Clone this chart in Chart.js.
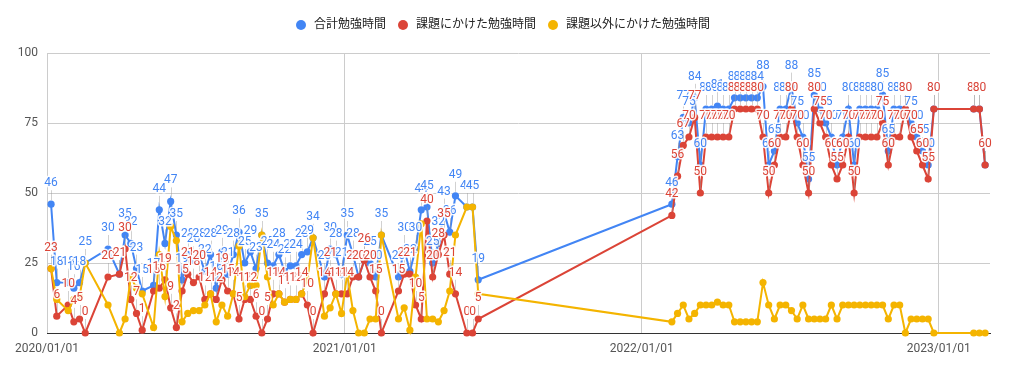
<!DOCTYPE html>
<html><head><meta charset="utf-8">
<script src="https://cdn.jsdelivr.net/npm/chart.js@4.4.1/dist/chart.umd.min.js"></script>
<style>html,body{margin:0;padding:0;background:#fff;}#wrap{width:1009px;height:373px;}</style>
</head><body><div id="wrap"><canvas id="c" width="1009" height="373"></canvas></div>
<script>
const seriesNames = ['合計勉強時間', '課題にかけた勉強時間', '課題以外にかけた勉強時間'];
const seriesColors = ['#4285F4', '#DB4437', '#F4B400'];

const dates = [
 '2020-01-06','2020-01-13','2020-01-27','2020-02-03','2020-02-10','2020-02-17','2020-03-16','2020-03-30',
 '2020-04-06','2020-04-13','2020-04-20','2020-04-27','2020-05-11','2020-05-18','2020-05-25','2020-06-01',
 '2020-06-08','2020-06-15','2020-06-22','2020-06-29','2020-07-06','2020-07-13','2020-07-20','2020-07-27',
 '2020-08-03','2020-08-10','2020-08-17','2020-08-24','2020-08-31','2020-09-07','2020-09-14','2020-09-21',
 '2020-09-28','2020-10-05','2020-10-12','2020-10-19','2020-10-26','2020-11-02','2020-11-09','2020-11-16',
 '2020-11-23','2020-12-07','2020-12-14','2020-12-21','2020-12-28','2021-01-04','2021-01-11','2021-01-18',
 '2021-01-25','2021-02-01','2021-02-08','2021-02-15','2021-03-08','2021-03-15','2021-03-22','2021-03-29',
 '2021-04-05','2021-04-12','2021-04-19','2021-04-26','2021-05-03','2021-05-10','2021-05-17','2021-05-31',
 '2021-06-07','2021-06-14',
 '2022-02-07','2022-02-14','2022-02-21','2022-02-28','2022-03-07','2022-03-14','2022-03-21','2022-03-28',
 '2022-04-04','2022-04-11','2022-04-18','2022-04-25','2022-05-02','2022-05-09','2022-05-16','2022-05-23',
 '2022-05-30','2022-06-06','2022-06-13','2022-06-20','2022-06-27','2022-07-04','2022-07-11','2022-07-18',
 '2022-07-25','2022-08-01','2022-08-08','2022-08-15','2022-08-22','2022-08-29','2022-09-05','2022-09-12',
 '2022-09-19','2022-09-26','2022-10-03','2022-10-10','2022-10-17','2022-10-24','2022-10-31','2022-11-07',
 '2022-11-14','2022-11-21','2022-11-28','2022-12-05','2022-12-12','2022-12-19','2022-12-26',
 '2023-02-13','2023-02-20','2023-02-27'
];
const total = [
 46,18,18,16,18,25,30,21, 35,32,23,15,17,44,32,47, 35,19,28,26,28,22,28,16, 29,21,28,36,25,29,23,35,
 25,24,28,22,24,24,28,29, 34,20,30,28,21,35,28,20, 26,25,20,35,20,30,22,30, 44,45,25,32,43,36,49,45, 45,19,
 46,63,77,75,84,60,80,80, 81,80,80,84,84,84,84,84, 88,60,65,80,80,88,75,70, 55,85,80,75,70,60,70,80,
 60,80,80,80,80,85,65,80, 80,80,75,70,65,60,80, 80,80,60
];
const task = [
 23,6,10,4,5,0,20,21, 30,12,7,1,15,16,19,9, 2,15,21,18,20,12,14,12, 19,15,14,5,12,12,6,0,
 5,14,14,11,12,12,14,10, 0,14,21,14,14,14,20,20, 26,20,15,0,15,21,21,10, 5,40,20,28,35,21,14,0, 0,5,
 42,56,67,70,77,50,70,70, 70,70,70,80,80,80,80,80, 70,50,60,70,70,80,70,60, 50,80,75,70,60,55,60,70,
 50,70,70,70,70,75,60,70, 70,80,70,65,60,55,80, 80,80,60
];
const other = [
 23,12,8,12,13,25,10,0, 5,20,16,14,2,28,13,38, 33,4,7,8,8,10,14,4, 10,6,14,31,13,17,17,35,
 20,10,14,11,12,12,14,19, 34,6,9,14,7,21,8,0, 0,5,5,35,5,9,1,20, 39,5,5,4,8,15,35,45, 45,14,
 4,7,10,5,7,10,10,10, 11,10,10,4,4,4,4,4, 18,10,5,10,10,8,5,10, 5,5,5,5,10,5,10,10,
 10,10,10,10,10,10,5,10, 10,0,5,5,5,5,0, 0,0,0
];
const yTicks = [0, 25, 50, 75, 100];
const xTickDates = ['2020-01-01', '2021-01-01', '2022-01-01', '2023-01-01'];
const xTickLabels = ['2020/01/01', '2021/01/01', '2022/01/01', '2023/01/01'];
const xRange = ['2020-01-01', '2023-03-05'];

function ts(s) { const p = s.split('-').map(Number); return Date.UTC(p[0], p[1] - 1, p[2]); }
const FONT = 'Roboto, "Noto Sans CJK JP", sans-serif';

function mk(values, i, order) {
  return {
    label: seriesNames[i],
    data: values.map((v, j) => ({ x: ts(dates[j]), y: v })),
    borderColor: seriesColors[i],
    backgroundColor: seriesColors[i],
    pointBackgroundColor: seriesColors[i],
    pointBorderWidth: 0,
    pointRadius: 3.6,
    pointHoverRadius: 3.6,
    borderWidth: 2,
    tension: 0,
    clip: false,
    order: order
  };
}

const labelPlugin = {
  id: 'pointLabels',
  afterDatasetsDraw(chart) {
    const ctx = chart.ctx;
    ctx.save();
    ctx.font = '12px ' + FONT;
    ctx.textAlign = 'center';
    ctx.textBaseline = 'middle';
    [0, 1].forEach(di => {
      const meta = chart.getDatasetMeta(di);
      const ds = chart.data.datasets[di];
      meta.data.forEach((pt) => {
        const x = Math.round(pt.x) + 0.5, y = pt.y;
        ctx.strokeStyle = 'rgba(153,153,153,0.45)';
        ctx.lineWidth = 1;
        ctx.beginPath(); ctx.moveTo(x, y - 4); ctx.lineTo(x, y - 14); ctx.stroke();
      });
      meta.data.forEach((pt, i) => {
        const v = ds.data[i].y;
        const x = pt.x, ly = pt.y - 21;
        ctx.lineJoin = 'round';
        ctx.lineWidth = 3;
        ctx.strokeStyle = 'rgba(255,255,255,0.9)';
        ctx.strokeText(String(v), x, ly);
        ctx.fillStyle = seriesColors[di];
        ctx.fillText(String(v), x, ly);
      });
    });
    ctx.restore();
  }
};

const legendPlugin = {
  id: 'customLegend',
  afterDraw(chart) {
    const ctx = chart.ctx;
    ctx.save();
    ctx.font = '12px ' + FONT;
    const widths = seriesNames.map(n => ctx.measureText(n).width);
    const r = 5, gapText = 8, gapItem = 12;
    const totalW = widths.reduce((a, w) => a + 2 * r + gapText + w, 0) + gapItem * (widths.length - 1);
    let x = 503 - totalW / 2;
    const y = 25;
    seriesNames.forEach((n, i) => {
      ctx.fillStyle = seriesColors[i];
      ctx.beginPath(); ctx.arc(x + r, y, r, 0, Math.PI * 2); ctx.fill();
      ctx.fillStyle = '#222';
      ctx.textAlign = 'left'; ctx.textBaseline = 'middle';
      ctx.fillText(n, x + 2 * r + gapText, y);
      x += 2 * r + gapText + widths[i] + gapItem;
    });
    ctx.restore();
  }
};

new Chart(document.getElementById('c'), {
  type: 'line',
  data: { datasets: [mk(total, 0, 2), mk(task, 1, 1), mk(other, 2, 0)] },
  options: {
    responsive: false,
    animation: false,
    devicePixelRatio: 1,
    layout: { padding: { top: 53, right: 19, bottom: 0, left: 0 } },
    plugins: { legend: { display: false }, tooltip: { enabled: false } },
    scales: {
      x: {
        type: 'linear',
        min: ts(xRange[0]), max: ts(xRange[1]),
        afterBuildTicks: s => { s.ticks = xTickDates.map(d => ({ value: ts(d) })); },
        afterFit: s => { s.height = 40; },
        ticks: {
          autoSkip: false, maxRotation: 0, padding: 9,
          color: '#555', font: { family: FONT, size: 12 },
          callback: (v, i) => xTickLabels[i]
        },
        grid: { color: '#cccccc', drawTicks: false, lineWidth: 1 },
        border: { display: true, color: '#333333' }
      },
      y: {
        min: 0, max: 100,
        afterBuildTicks: s => { s.ticks = yTicks.map(v => ({ value: v })); },
        afterFit: s => { s.width = 47; },
        ticks: { padding: 9, color: '#555', font: { family: FONT, size: 12 } },
        grid: {
          drawTicks: false,
          color: c => (c.tick && c.tick.value === 0) ? '#333333' : '#cccccc'
        },
        border: { display: false }
      }
    }
  },
  plugins: [labelPlugin, legendPlugin]
});
</script>
</body></html>
